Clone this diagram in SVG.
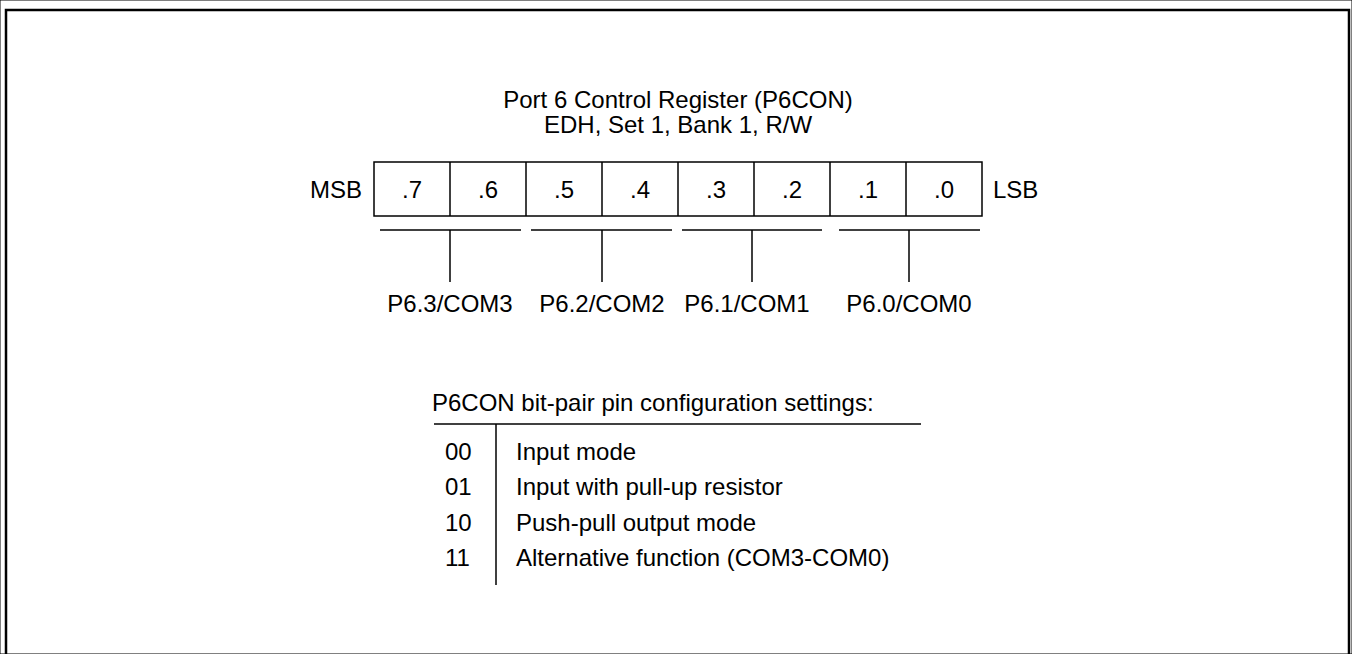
<svg xmlns="http://www.w3.org/2000/svg" width="1352" height="654" viewBox="0 0 1352 654">
<style>
text{font-family:"Liberation Sans",Arial,sans-serif;font-size:24px;fill:#000}
.c{text-anchor:middle}
.e{text-anchor:end}
line,rect{stroke:#000;fill:none}
.f{stroke-width:2.5}
.t{stroke-width:1.5}
</style>
<rect width="1352" height="654" fill="#fff" stroke="none"/>
<rect class="f" x="6" y="10" width="1343" height="700"/>
<g id="title">
<text class="c" x="678" y="108">Port 6 Control Register (P6CON)</text>
<text class="c" x="678" y="133">EDH, Set 1, Bank 1, R/W</text>
</g>
<g id="register">
<rect class="t" x="374" y="162" width="608" height="54"/>
<line class="t" x1="450" y1="162" x2="450" y2="216"/>
<line class="t" x1="526" y1="162" x2="526" y2="216"/>
<line class="t" x1="602" y1="162" x2="602" y2="216"/>
<line class="t" x1="678" y1="162" x2="678" y2="216"/>
<line class="t" x1="754" y1="162" x2="754" y2="216"/>
<line class="t" x1="830" y1="162" x2="830" y2="216"/>
<line class="t" x1="906" y1="162" x2="906" y2="216"/>
<text class="e" x="362" y="198">MSB</text>
<text x="993" y="198">LSB</text>
<text class="c" x="412" y="198">.7</text>
<text class="c" x="488" y="198">.6</text>
<text class="c" x="564" y="198">.5</text>
<text class="c" x="640" y="198">.4</text>
<text class="c" x="716" y="198">.3</text>
<text class="c" x="792" y="198">.2</text>
<text class="c" x="868" y="198">.1</text>
<text class="c" x="944" y="198">.0</text>
</g>
<g id="connectors">
<line class="t" x1="380" y1="230" x2="521" y2="230"/>
<line class="t" x1="450" y1="230" x2="450" y2="282"/>
<line class="t" x1="531" y1="230" x2="672" y2="230"/>
<line class="t" x1="602" y1="230" x2="602" y2="282"/>
<line class="t" x1="682" y1="230" x2="822" y2="230"/>
<line class="t" x1="752" y1="230" x2="752" y2="282"/>
<line class="t" x1="839" y1="230" x2="980" y2="230"/>
<line class="t" x1="909" y1="230" x2="909" y2="282"/>
</g>
<g id="pin-labels">
<text class="c" x="450" y="312">P6.3/COM3</text>
<text class="c" x="602" y="312">P6.2/COM2</text>
<text class="c" x="747" y="312">P6.1/COM1</text>
<text class="c" x="909" y="312">P6.0/COM0</text>
</g>
<g id="table">
<text x="432" y="411">P6CON bit-pair pin configuration settings:</text>
<line class="t" x1="434" y1="424" x2="921" y2="424"/>
<line class="t" x1="496" y1="424" x2="496" y2="585"/>
<text x="445" y="460">00</text>
<text x="445" y="495">01</text>
<text x="445" y="531">10</text>
<text x="445" y="566">11</text>
<text x="516" y="460">Input mode</text>
<text x="516" y="495">Input with pull-up resistor</text>
<text x="516" y="531">Push-pull output mode</text>
<text x="516" y="566">Alternative function (COM3-COM0)</text>
</g>
</svg>
